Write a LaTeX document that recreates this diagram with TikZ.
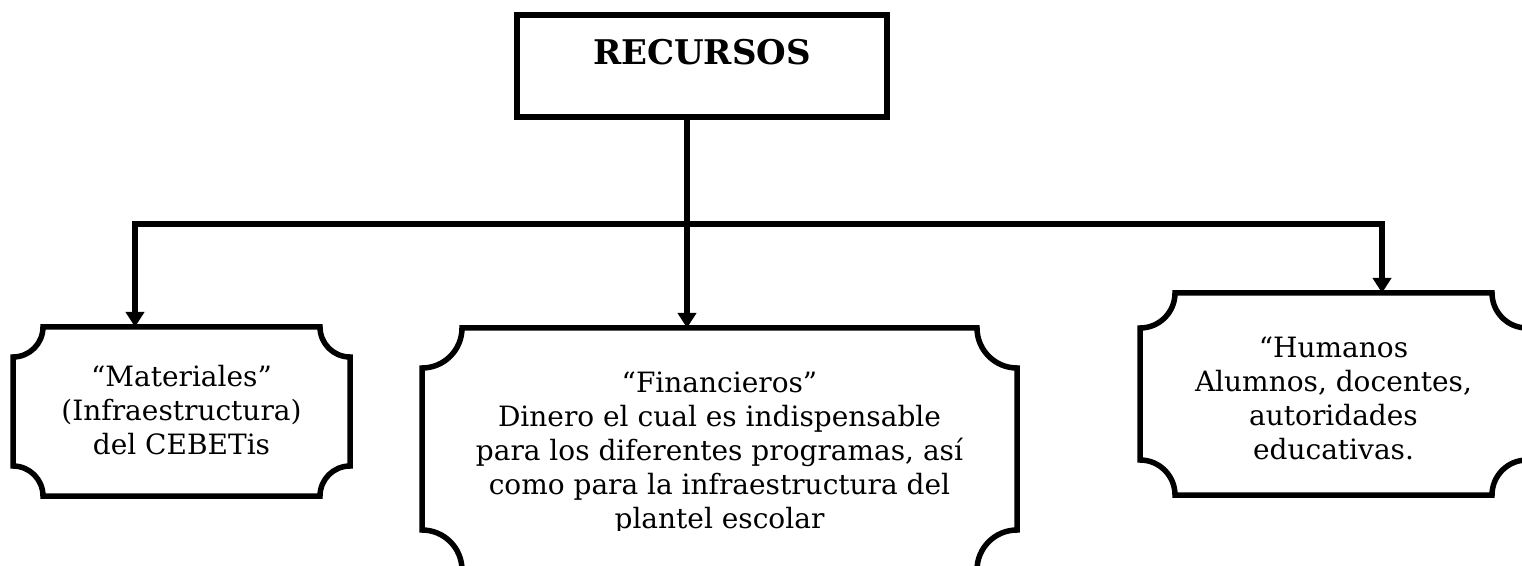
\documentclass[tikz,border=0pt]{standalone}
\usepackage{fontspec}
\setmainfont{DejaVu Serif}
\usetikzlibrary{arrows.meta}

\tikzset{
  frame/.style={line width=5.5pt},
  conn/.style={line width=5.5pt, -{Triangle[length=15pt,width=18pt]}},
  twoway/.style={line width=5.5pt, {Triangle[length=15pt,width=18pt]}-{Triangle[length=15pt,width=18pt]}},
  card/.style={inner sep=0pt, outer sep=0pt, font=\fontsize{28}{34}\selectfont},
}

% box text, set from the top: width, height, top gap, text
\newcommand{\cardtext}[4]{\begin{minipage}[c][#2][t]{#1}\centering\vspace*{#3}#4\end{minipage}}

% frame with scooped corners round a node
\newcommand{\scoopframe}[2]{%
  \draw[frame] ([xshift=#2]#1.north west) -- ([xshift=-#2]#1.north east)
    arc[start angle=180,end angle=270,radius=#2] -- ([yshift=#2]#1.south east)
    arc[start angle=90,end angle=180,radius=#2] -- ([xshift=#2]#1.south west)
    arc[start angle=0,end angle=90,radius=#2] -- ([yshift=-#2]#1.north west)
    arc[start angle=270,end angle=360,radius=#2] -- cycle;}

\begin{document}
\begin{tikzpicture}[x=1pt,y=1pt]
  \useasboundingbox (0,0) rectangle (1522,565);

  % title
  \node[card, draw, frame, font=\fontsize{34}{40}\selectfont\bfseries] (rec) at (702,499)
    {\cardtext{370pt}{102pt}{24pt}{RECURSOS}};

  % the three kinds
  \node[card] (mat) at (181.5,153.5)
    {\cardtext{337pt}{169pt}{38pt}{“Materiales”\\(Infraestructura)\\del CEBETis}};
  \begin{scope}
    \clip (0,35) rectangle (1522,565);
    \node[card] (fin) at (719.5,116)
      {\cardtext{595pt}{242pt}{44pt}{“Financieros”\\Dinero el cual es indispensable\\para los diferentes programas, así\\como para la infraestructura del\\plantel escolar}};
  \end{scope}
  \node[card] (hum) at (1333.5,171)
    {\cardtext{387pt}{202pt}{44pt}{“Humanos\\Alumnos, docentes,\\autoridades\\educativas.}};

  \scoopframe{mat}{30pt}
  \scoopframe{fin}{40pt}
  \scoopframe{hum}{35pt}

  % connectors
  \coordinate (drop) at (687,448);
  \coordinate (barL) at (135,341);
  \coordinate (barR) at (1382,341);
  \draw[conn] (drop) -- (drop |- fin.north);
  \draw[twoway] (barL |- mat.north) -- (barL) -- (barR) -- (barR |- hum.north);
\end{tikzpicture}
\end{document}
